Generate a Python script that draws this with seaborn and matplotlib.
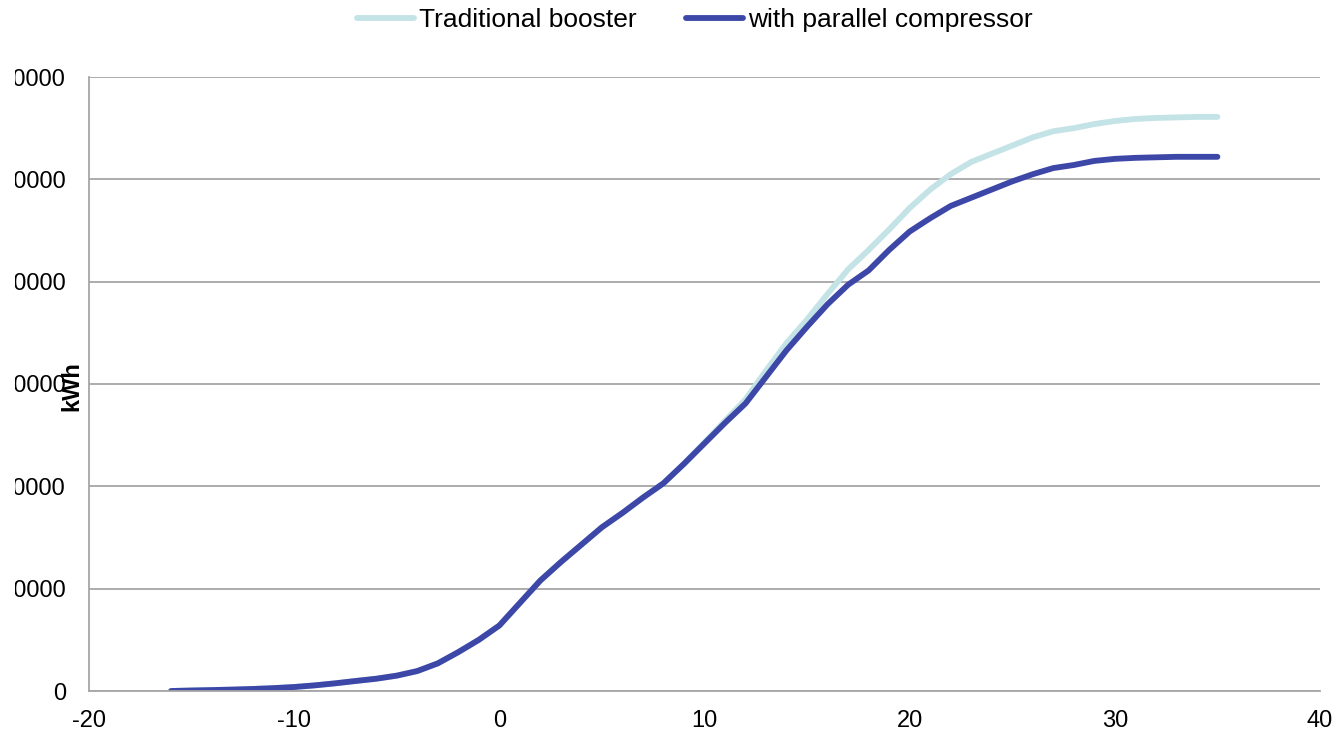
import numpy as np
import pandas as pd
import seaborn as sns
from matplotlib import pyplot as plt
from matplotlib.patches import Rectangle

#%%
# outdoor temperature (C)
temps = list(range(-16, 36))

# cumulative energy, kWh
parallel_kwh = [0, 500, 900, 1400, 2000, 2800, 3900, 5500, 7500, 9800,
                12000, 15000, 19500, 27000, 38000, 50000, 64000, 86000, 108000, 126000,
                143000, 160000, 174000, 189000, 203000, 222000, 242000, 262000, 281000, 307000,
                333000, 356000, 378000, 397000, 411000, 431000, 449000, 462000, 474000, 482000,
                490000, 498000, 505000, 511000, 514000, 518000, 520000, 521000, 521500, 522000,
                522000, 522000]
booster_kwh = [0, 500, 900, 1400, 2000, 2800, 3900, 5500, 7500, 9800,
               12000, 15000, 19500, 27000, 38000, 50000, 64000, 86000, 108000, 126000,
               143000, 160000, 174000, 189000, 203000, 222000, 243000, 264000, 285000, 313000,
               340000, 363000, 388000, 412000, 431000, 451000, 472000, 490000, 505000, 517000,
               525000, 533000, 541000, 547000, 550000, 554000, 557000, 559000, 560000, 560500,
               561000, 561000]

y_ticks = [0, 100000, 200000, 300000, 400000, 500000, 600000]
x_ticks = [-20, -10, 0, 10, 20, 30, 40]

df = pd.DataFrame({'Temp': temps, 'Traditional booster': booster_kwh,
                   'with parallel compressor': parallel_kwh})

#%%
sns.set_style("white")
plt.rcParams['font.family'] = ['Liberation Sans', 'DejaVu Sans']
plt.rcParams['axes.unicode_minus'] = False
plt.rcParams['text.color'] = 'black'

fig = plt.figure(figsize=(13.41, 7.41), dpi=100)
ax = fig.add_axes([89 / 1341, 50 / 741, 1231 / 1341, 614 / 741])

sns.lineplot(x='Temp', y='Traditional booster', data=df, ax=ax, color='#C3E3E6',
             linewidth=4.2, label='Traditional booster', solid_capstyle='round')
sns.lineplot(x='Temp', y='with parallel compressor', data=df, ax=ax, color='#3D47A8',
             linewidth=4.2, label='with parallel compressor', solid_capstyle='round')

ax.set_xlim(-20, 40)
ax.set_ylim(0, 600000)
ax.set_xticks(x_ticks)
ax.set_yticks(y_ticks)
ax.set_yticklabels([str(v) for v in y_ticks])
ax.set_xlabel('')
ax.set_ylabel('')
ax.grid(axis='y', color='#A6A6A6', linewidth=1.3)
ax.set_axisbelow(True)

for s in ['top', 'right']:
    ax.spines[s].set_visible(False)
for s in ['left', 'bottom']:
    ax.spines[s].set_color('#A6A6A6')
    ax.spines[s].set_linewidth(1.3)
ax.tick_params(axis='both', direction='out', length=6.5, width=1.3, color='#A6A6A6',
               labelsize=17, labelcolor='black')
ax.tick_params(axis='y', pad=10)
ax.tick_params(axis='x', pad=7)

fig.text(72 / 1341, 1 - 386 / 741, 'kWh', rotation=90, fontsize=17, fontweight='bold',
         ha='center', va='center', color='black')

leg = ax.legend(loc='center', bbox_to_anchor=(695 / 1341, 1 - 20 / 741),
                bbox_transform=fig.transFigure, ncol=2, frameon=False, fontsize=19,
                handlelength=2.15, handletextpad=0.2, columnspacing=1.85)
for t in leg.get_texts():
    t.set_color('black')

# left edge of the original picture is cut off
fig.patches.append(Rectangle((0, 0), 15 / 1341, 1, transform=fig.transFigure,
                             facecolor='white', edgecolor='none', zorder=10))

plt.savefig('out.png', dpi=100)
